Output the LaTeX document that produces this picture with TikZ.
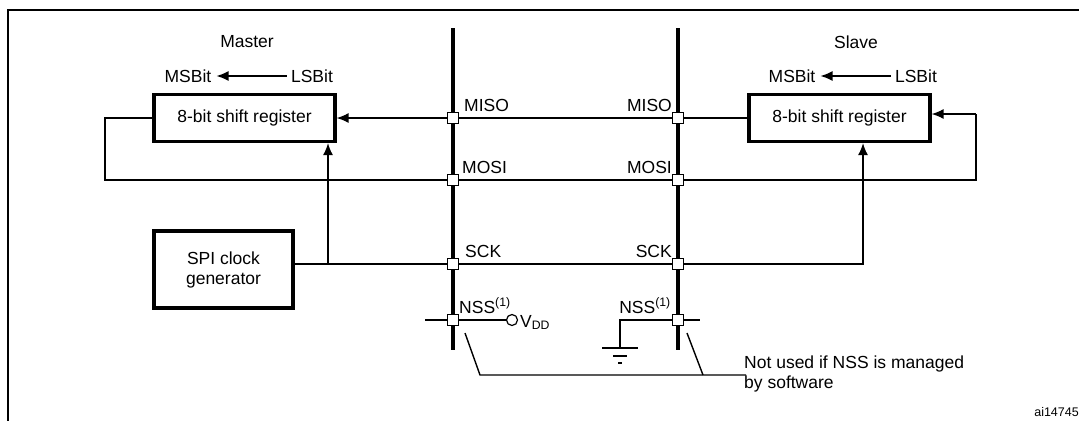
\documentclass[tikz,border=0pt]{standalone}
\usepackage{fontspec}
\setmainfont{Liberation Sans}
\usetikzlibrary{arrows.meta, positioning}

\tikzset{
    reg/.style={draw, line width=3.2pt, inner sep=0pt, minimum height=47pt},
    pin/.style={draw, fill=white, line width=1.2pt, minimum size=11pt, inner sep=0pt},
    wire/.style={line width=1.4pt},
    bus/.style={line width=3.4pt},
    txt/.style={font=\fontsize{17.5}{20}\selectfont, inner sep=0pt},
    arr/.style={wire, -{Latex[length=12pt, width=10pt]}}
}

\begin{document}
\begin{tikzpicture}[x=1pt, y=-1pt]
    \useasboundingbox (0,0) rectangle (1079,421);
    % frame
    \draw[line width=1.8pt] (1079,10) -- (8,10) -- (8,421);

    % buses
    \draw[bus] (453,28) -- (453,350);
    \draw[bus] (678,28) -- (678,350);

    % master side
    \node[txt] (master) at (247,42) {Master};
    \node[txt] (mmsb) at (188,76) {MSBit};
    \node[txt] (mlsb) at (312,76) {LSBit};
    \draw[arr] ([xshift=-4pt]mlsb.west) -- ([xshift=5pt]mmsb.east);
    \node[reg, txt, minimum width=181pt, minimum height=47pt] (mreg) at (244.5,118) {8-bit shift register};
    \node[reg, txt, minimum width=139pt, minimum height=77pt, align=center] (clk) at (223.5,269.5) {SPI clock\\generator};

    % slave side
    \node[txt] (slave) at (856,42) {Slave};
    \node[txt] (smsb) at (792,76) {MSBit};
    \node[txt] (slsb) at (916,76) {LSBit};
    \draw[arr] ([xshift=-4pt]slsb.west) -- ([xshift=5pt]smsb.east);
    \node[reg, txt, minimum width=181pt, minimum height=47pt] (sreg) at (839.5,118) {8-bit shift register};

    % pins
    \foreach \name/\y in {miso/118, mosi/180, sck/264, nss/320} {
        \node[pin] (m\name) at (453,\y) {};
        \node[pin] (s\name) at (678,\y) {};
    }

    % pin labels
    \node[txt, anchor=base west] at (464,111) {MISO};
    \node[txt, anchor=base east] at (672,111) {MISO};
    \node[txt, anchor=base west] at (462,173) {MOSI};
    \node[txt, anchor=base east] at (672,173) {MOSI};
    \node[txt, anchor=base west] at (465,257) {SCK};
    \node[txt, anchor=base east] at (672,257) {SCK};
    \node[txt, anchor=base west] (mnsslbl) at (459,313) {NSS\textsuperscript{(1)}};
    \node[txt, anchor=base east] (snsslbl) at (671,313) {NSS\textsuperscript{(1)}};

    % MISO
    \draw[wire] (sreg.west) -- (smiso) -- (mmiso);
    \draw[arr] (mmiso) -- (mreg.east);
    % MOSI loops
    \draw[wire] (mreg.west) -| (105,180) -- (mmosi) -- (smosi) -| (976,114);
    \draw[arr] (976,114) -- (sreg.east |- 0,114);
    % SCK
    \draw[wire] (clk.east |- msck) -- (msck) -- (ssck) -| (863,230);
    \draw[arr] (863,230) -- (sreg.south -| 863,0);
    \draw[arr] (328,264) -- (mreg.south -| 328,0);

    % NSS master to VDD
    \node[draw, circle, line width=1.2pt, minimum size=11pt, inner sep=0pt] (vdd) at (512,320) {};
    \node[txt, anchor=base west] at (520,327) {V\textsubscript{DD}};
    \draw[wire] (425,320) -- (mnss) -- (vdd);
    % NSS slave to ground
    \draw[wire] (snss) -- (620,320) -- (620,348);
    \draw[wire] (snss) -- (700,320);
    \draw[wire] (602,348) -- (638,348);
    \draw[wire] (613,356) -- (627,356);
    \draw[wire] (618,363) -- (622,363);

    % note
    \draw[wire] (465,333) -- (480,375) -- (746,375);
    \draw[wire] (687,333) -- (703,375);
    \node[txt, anchor=west, align=left] (note) at (744,374) {Not used if NSS is managed\\by software};
    \node[font=\fontsize{12.5}{14}\selectfont, anchor=east, inner sep=0pt] (ref) at (1079,412) {ai14745};
\end{tikzpicture}
\end{document}
